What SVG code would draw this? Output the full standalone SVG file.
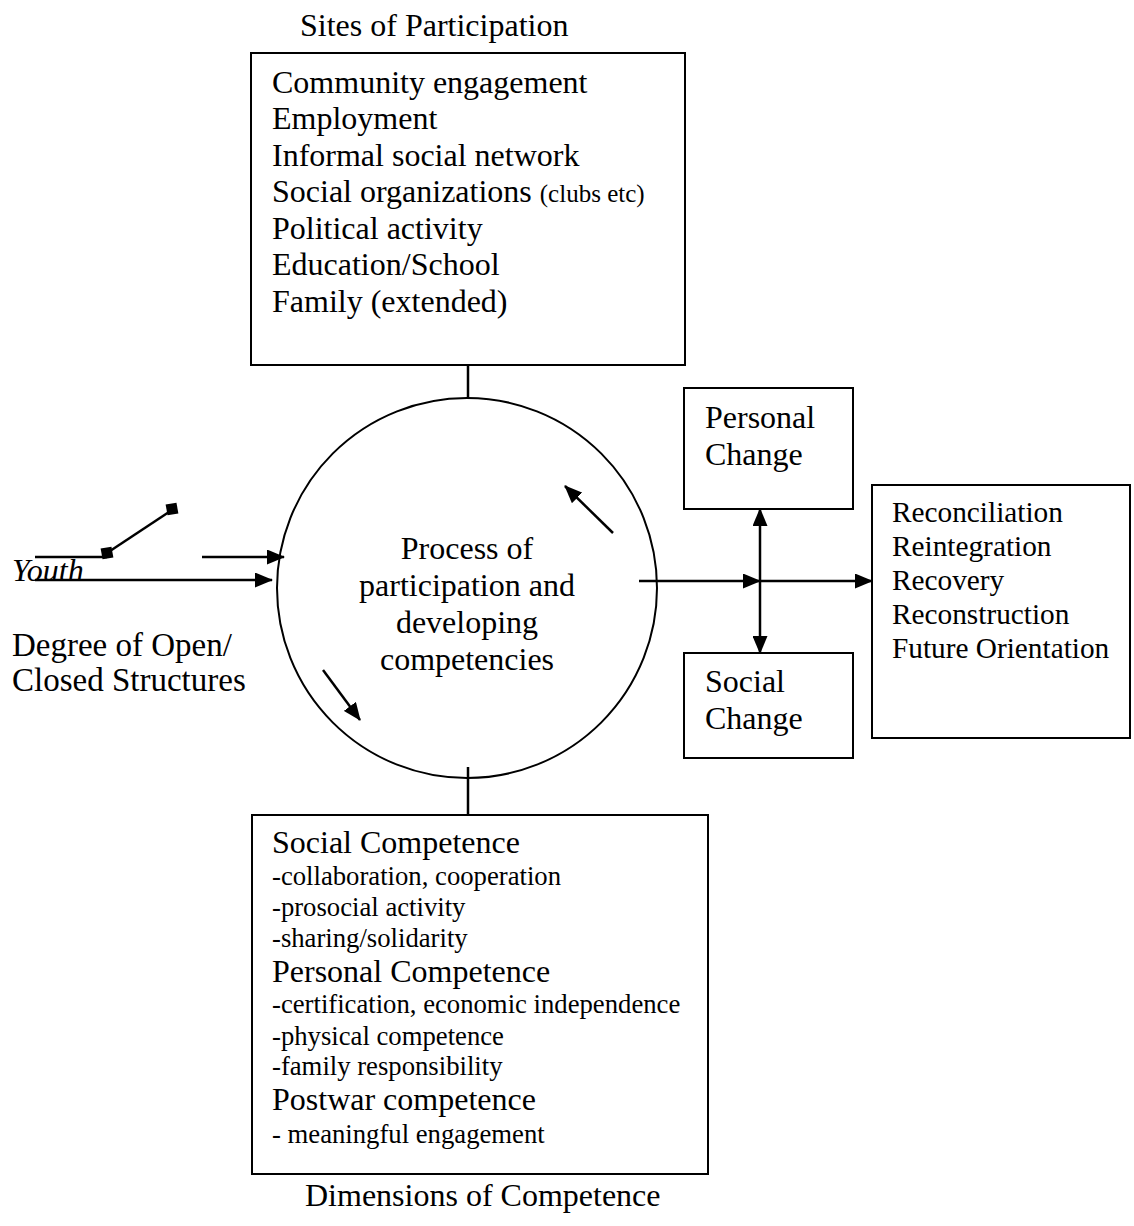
<svg xmlns="http://www.w3.org/2000/svg" width="1134" height="1226" viewBox="0 0 1134 1226">
<style>
text{font-family:"Liberation Serif","Times New Roman",serif;fill:#000}
.l{font-size:32px}
.m{font-size:29.3px}
.s{font-size:26.7px}
.box{fill:#fff;stroke:#000;stroke-width:2}
.ln{fill:none;stroke:#000;stroke-width:2.5}
</style>
<defs>
<marker id="ah" markerUnits="userSpaceOnUse" markerWidth="18" markerHeight="15" refX="17" refY="7.5" orient="auto-start-reverse">
<path d="M0,0 L18,7.5 L0,15 Z" fill="#000"/>
</marker>
</defs>
<rect width="1134" height="1226" fill="#fff"/>

<text class="l" x="300" y="36">Sites of Participation</text>
<text class="l" x="305" y="1206">Dimensions of Competence</text>

<g id="connectors">
<line class="ln" x1="468" y1="365" x2="468" y2="398"/>
<line class="ln" x1="468" y1="767" x2="468" y2="815"/>
<line class="ln" x1="35" y1="557" x2="107" y2="557"/>
<line class="ln" x1="107" y1="553" x2="172" y2="510"/>
<rect x="101.5" y="547.5" width="11" height="11" fill="#000" transform="rotate(-10 107 553)"/>
<rect x="166.5" y="503.5" width="11" height="11" fill="#000" transform="rotate(-10 172 509)"/>
<line class="ln" x1="202" y1="557" x2="284" y2="557" marker-end="url(#ah)"/>
<line class="ln" x1="35" y1="580" x2="272" y2="580" marker-end="url(#ah)"/>
<line class="ln" x1="613" y1="533" x2="565" y2="486" marker-end="url(#ah)"/>
<line class="ln" x1="323" y1="670" x2="360" y2="720" marker-end="url(#ah)"/>
<line class="ln" x1="639" y1="581" x2="760" y2="581" marker-end="url(#ah)"/>
<line class="ln" x1="760" y1="581" x2="872" y2="581" marker-end="url(#ah)"/>
<line class="ln" x1="760" y1="509" x2="760" y2="653" marker-start="url(#ah)" marker-end="url(#ah)"/>
</g>

<g id="sites">
<rect class="box" x="251" y="53" width="434" height="312"/>
<text class="l" x="272" y="93">Community engagement</text>
<text class="l" x="272" y="129">Employment</text>
<text class="l" x="272" y="166">Informal social network</text>
<text class="l" x="272" y="202">Social organizations <tspan style="font-size:25px">(clubs etc)</tspan></text>
<text class="l" x="272" y="239">Political activity</text>
<text class="l" x="272" y="275">Education/School</text>
<text class="l" x="272" y="312">Family (extended)</text>
</g>

<g id="process">
<ellipse cx="467" cy="588" rx="190" ry="190" fill="none" stroke="#000" stroke-width="2"/>
<text class="l" x="467" y="559" text-anchor="middle">Process of</text>
<text class="l" x="467" y="596" text-anchor="middle">participation and</text>
<text class="l" x="467" y="633" text-anchor="middle">developing</text>
<text class="l" x="467" y="670" text-anchor="middle">competencies</text>
</g>

<g id="youth">
<text class="l" x="12" y="581" font-style="italic">Youth</text>
</g>

<g id="structures">
<text class="l" x="12" y="656" style="font-size:33px">Degree of Open/</text>
<text class="l" x="12" y="691" style="font-size:33px">Closed Structures</text>
</g>

<g id="competence">
<rect class="box" x="252" y="815" width="456" height="359"/>
<text class="l" x="272" y="853">Social Competence</text>
<text class="s" x="272" y="885">-collaboration, cooperation</text>
<text class="s" x="272" y="916">-prosocial activity</text>
<text class="s" x="272" y="947">-sharing/solidarity</text>
<text class="l" x="272" y="982">Personal Competence</text>
<text class="s" x="272" y="1013">-certification, economic independence</text>
<text class="s" x="272" y="1045">-physical competence</text>
<text class="s" x="272" y="1075">-family responsibility</text>
<text class="l" x="272" y="1110">Postwar competence</text>
<text class="s" x="272" y="1143">-  meaningful engagement</text>
</g>

<g id="personal-change">
<rect class="box" x="684" y="388" width="169" height="121"/>
<text class="l" x="705" y="428">Personal</text>
<text class="l" x="705" y="465">Change</text>
</g>

<g id="social-change">
<rect class="box" x="684" y="653" width="169" height="105"/>
<text class="l" x="705" y="692">Social</text>
<text class="l" x="705" y="729">Change</text>
</g>

<g id="outcomes">
<rect class="box" x="872" y="485" width="258" height="253"/>
<text class="m" x="892" y="522">Reconciliation</text>
<text class="m" x="892" y="556">Reintegration</text>
<text class="m" x="892" y="590">Recovery</text>
<text class="m" x="892" y="624">Reconstruction</text>
<text class="m" x="892" y="658">Future Orientation</text>
</g>
</svg>
